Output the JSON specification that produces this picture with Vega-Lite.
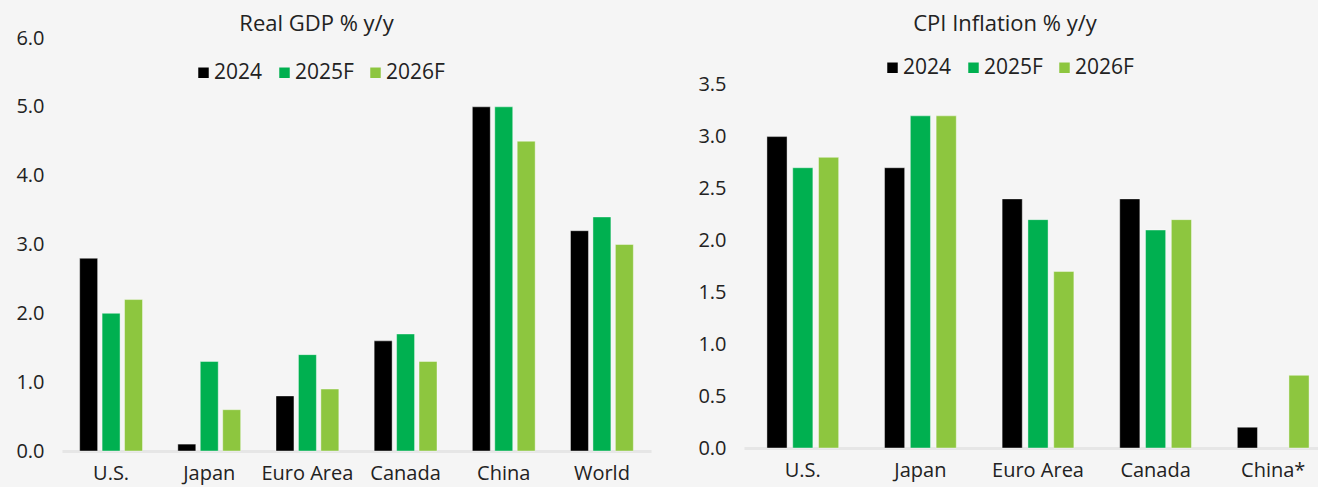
{
  "$schema": "https://vega.github.io/schema/vega-lite/v6.json",
  "background": "#f5f5f5",
  "padding": {"left": 15, "top": 13, "right": 0, "bottom": 10},
  "bounds": "flush",
  "spacing": 93,
  "config": {
    "font": "Open Sans",
    "view": {"stroke": null},
    "axis": {"grid": false, "ticks": false, "tickSize": 0, "labelColor": "#222222", "labelFont": "Open Sans"},
    "title": {"font": "Open Sans", "fontSize": 22, "fontWeight": "normal", "color": "#222222", "anchor": "middle"},
    "legend": {"labelFont": "Open Sans", "labelColor": "#222222"}
  },
  "datasets": {
    "gdp": [
      {"region": "U.S.", "series": "2024", "value": 2.8},
      {"region": "U.S.", "series": "2025F", "value": 2.0},
      {"region": "U.S.", "series": "2026F", "value": 2.2},
      {"region": "Japan", "series": "2024", "value": 0.1},
      {"region": "Japan", "series": "2025F", "value": 1.3},
      {"region": "Japan", "series": "2026F", "value": 0.6},
      {"region": "Euro Area", "series": "2024", "value": 0.8},
      {"region": "Euro Area", "series": "2025F", "value": 1.4},
      {"region": "Euro Area", "series": "2026F", "value": 0.9},
      {"region": "Canada", "series": "2024", "value": 1.6},
      {"region": "Canada", "series": "2025F", "value": 1.7},
      {"region": "Canada", "series": "2026F", "value": 1.3},
      {"region": "China", "series": "2024", "value": 5.0},
      {"region": "China", "series": "2025F", "value": 5.0},
      {"region": "China", "series": "2026F", "value": 4.5},
      {"region": "World", "series": "2024", "value": 3.2},
      {"region": "World", "series": "2025F", "value": 3.4},
      {"region": "World", "series": "2026F", "value": 3.0}
    ],
    "cpi": [
      {"region": "U.S.", "series": "2024", "value": 3.0},
      {"region": "U.S.", "series": "2025F", "value": 2.7},
      {"region": "U.S.", "series": "2026F", "value": 2.8},
      {"region": "Japan", "series": "2024", "value": 2.7},
      {"region": "Japan", "series": "2025F", "value": 3.2},
      {"region": "Japan", "series": "2026F", "value": 3.2},
      {"region": "Euro Area", "series": "2024", "value": 2.4},
      {"region": "Euro Area", "series": "2025F", "value": 2.2},
      {"region": "Euro Area", "series": "2026F", "value": 1.7},
      {"region": "Canada", "series": "2024", "value": 2.4},
      {"region": "Canada", "series": "2025F", "value": 2.1},
      {"region": "Canada", "series": "2026F", "value": 2.2},
      {"region": "China*", "series": "2024", "value": 0.2},
      {"region": "China*", "series": "2026F", "value": 0.7}
    ]
  },
  "hconcat": [
    {
      "width": 589,
      "height": 413,
      "title": {"text": "Real GDP % y/y", "dx": -40, "offset": -8},
      "data": {"name": "gdp"},
      "mark": {"type": "bar", "stroke": "#ffffff", "strokeWidth": 0.8, "strokeOpacity": 0.5},
      "encoding": {
        "x": {
          "field": "region", "type": "nominal",
          "sort": ["U.S.", "Japan", "Euro Area", "Canada", "China", "World"],
          "scale": {"paddingInner": 0.36, "paddingOuter": 0.18},
          "axis": {"title": null, "labelAngle": 0, "labelFontSize": 20, "labelPadding": 12, "domainColor": "#e6e6e6", "domainWidth": 3}
        },
        "xOffset": {"field": "series", "type": "nominal", "scale": {"domain": ["2024", "2025F", "2026F"], "paddingInner": 0.2}},
        "y": {
          "field": "value", "type": "quantitative",
          "scale": {"domain": [0, 6], "nice": false},
          "axis": {"title": null, "values": [0, 1, 2, 3, 4, 5, 6], "format": ".1f", "domain": false, "labelFontSize": 20, "labelPadding": 18}
        },
        "color": {
          "field": "series", "type": "nominal",
          "scale": {"domain": ["2024", "2025F", "2026F"], "range": ["#000000", "#00b050", "#8dc63f"]},
          "legend": {"title": null, "orient": "none", "legendX": 131, "legendY": 24, "direction": "horizontal", "symbolType": "square", "symbolSize": 110, "symbolStrokeWidth": 0, "labelFontSize": 21, "labelOffset": 0, "columnPadding": 11}
        }
      }
    },
    {
      "width": 588,
      "height": 410,
      "title": {"text": "CPI Inflation % y/y", "dx": -33, "offset": 2},
      "data": {"name": "cpi"},
      "mark": {"type": "bar", "stroke": "#ffffff", "strokeWidth": 0.8, "strokeOpacity": 0.5},
      "encoding": {
        "x": {
          "field": "region", "type": "nominal",
          "sort": ["U.S.", "Japan", "Euro Area", "Canada", "China*"],
          "scale": {"paddingInner": 0.39, "paddingOuter": 0.195},
          "axis": {"title": null, "labelAngle": 0, "labelFontSize": 20, "labelPadding": 12, "domainColor": "#e6e6e6", "domainWidth": 3}
        },
        "xOffset": {"field": "series", "type": "nominal", "scale": {"domain": ["2024", "2025F", "2026F"], "paddingInner": 0.22}},
        "y": {
          "field": "value", "type": "quantitative",
          "scale": {"domain": [0, 3.95], "nice": false},
          "axis": {"title": null, "values": [0, 0.5, 1, 1.5, 2, 2.5, 3, 3.5], "format": ".1f", "domain": false, "labelFontSize": 20, "labelPadding": 18}
        },
        "color": {
          "field": "series", "type": "nominal",
          "scale": {"domain": ["2024", "2025F", "2026F"], "range": ["#000000", "#00b050", "#8dc63f"]},
          "legend": {"title": null, "orient": "none", "legendX": 138, "legendY": 19, "direction": "horizontal", "symbolType": "square", "symbolSize": 110, "symbolStrokeWidth": 0, "labelFontSize": 21, "labelOffset": 0, "columnPadding": 11}
        }
      }
    }
  ],
  "resolve": {
    "scale": {"color": "independent", "x": "independent", "y": "independent", "xOffset": "independent"},
    "legend": {"color": "independent"}
  }
}
